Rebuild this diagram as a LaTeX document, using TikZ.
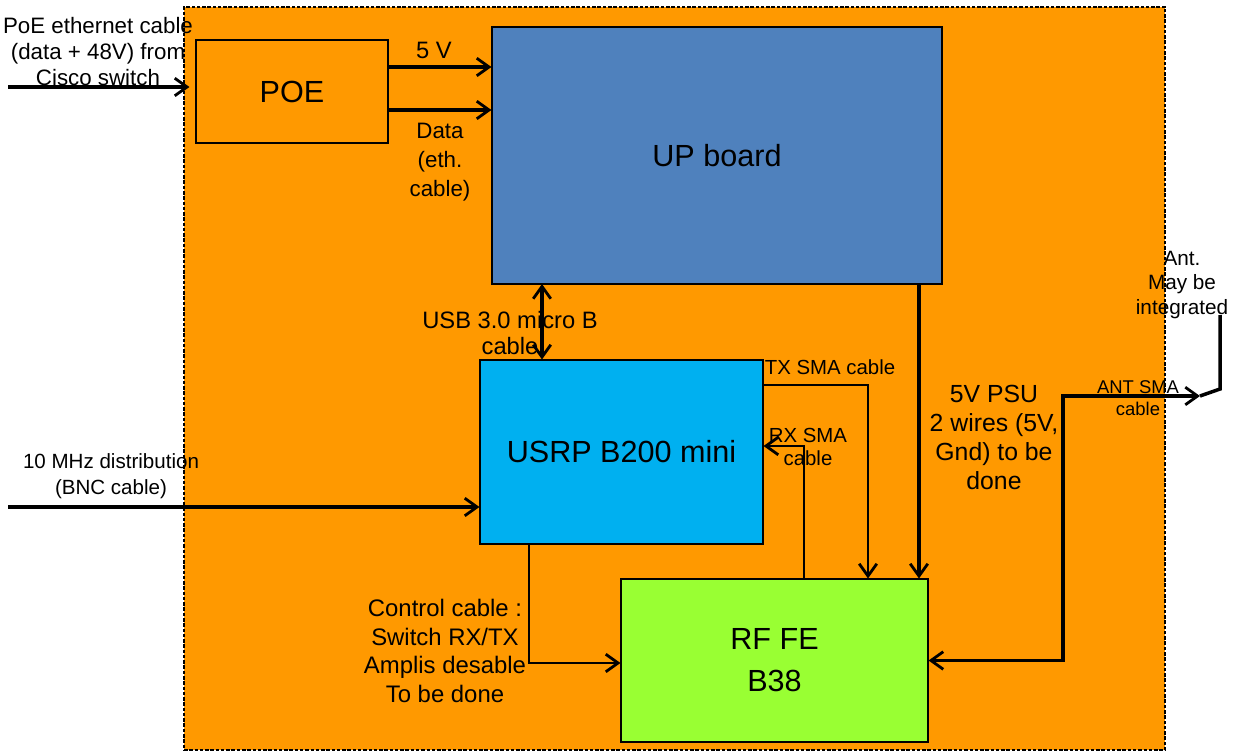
\documentclass[tikz,border=0pt]{standalone}
\usepackage{fontspec}
\setmainfont{Liberation Sans}
\usetikzlibrary{arrows.meta}
\definecolor{frameorange}{HTML}{FF9900}
\definecolor{upblue}{HTML}{4F81BD}
\definecolor{usrpcyan}{HTML}{00B0F0}
\definecolor{rfgreen}{HTML}{99FF33}

\begin{document}
\begin{tikzpicture}[x=0.2mm, y=-0.2mm,
  >={Straight Barb[length=7pt, width=10pt, line width=1.6pt]},
  box/.style={draw, line width=0.6pt, inner sep=0pt, align=center, font=\fontsize{17.4}{24}\selectfont},
  lbl/.style={align=center, inner sep=0pt, font=\fontsize{12.7}{14.8}\selectfont},
  lblm/.style={align=center, inner sep=0pt, font=\fontsize{13.6}{16.2}\selectfont},
  wire/.style={line width=2pt},
  thinwire/.style={line width=0.8pt}]
\useasboundingbox (0,0) rectangle (1235,751);
% outer case
\node[draw, fill=frameorange, dash pattern=on 2pt off 1pt, line width=1pt,
  minimum width=196.2mm, minimum height=148.6mm] (case) at (674.5,378.5) {};
% boxes
\node[box, fill=frameorange, minimum width=38.4mm, minimum height=20.6mm] (poe) at (292,91.5) {POE};
\node[box, fill=upblue, minimum width=90mm, minimum height=51.4mm] (up) at (717,155.5) {UP board};
\node[box, fill=usrpcyan, minimum width=56.6mm, minimum height=36.8mm] (usrp) at (621.5,452) {USRP B200 mini};
\node[box, fill=rfgreen, minimum width=61.4mm, minimum height=32.6mm] (rf) at (774.5,660.5) {RF FE\\B38};
% end points of the cables
\coordinate (poein) at (8,87);
\coordinate (fivev) at (388,67);
\coordinate (data) at (388,110);
\coordinate (usb) at (542,284);
\coordinate (clkin) at (8,507);
\coordinate (txdrop) at (868,385);
\coordinate (rxrise) at (804,446);
\coordinate (psu) at (919,284);
\coordinate (ctrl) at (529,663);
\coordinate (antbend) at (1063,396);
\coordinate (antfeed) at (1200,396);
\coordinate (antkink) at (1220,389);
\coordinate (anttop) at (1220,315);
% cables
\draw[->, wire] (poein) -- ([xshift=-1.2mm]poein -| poe.west);
\draw[->, wire] (fivev) -- (fivev -| up.west);
\draw[->, wire] (data) -- (data -| up.west);
\draw[<->, wire] (usb) -- (usb |- usrp.north);
\draw[->, wire] (clkin) -- (clkin -| usrp.west);
\draw[->, thinwire] (usrp.east |- txdrop) -- (txdrop) -- (txdrop |- rf.north);
\draw[->, thinwire] (rxrise |- rf.north) -- (rxrise) -- (rxrise -| usrp.east);
\draw[->, wire] (psu) -- (psu |- rf.north);
\draw[->, thinwire] (ctrl |- usrp.south) -- (ctrl) -- (ctrl -| rf.west);
\draw[<->, wire] (rf.east) -| (antbend) -- (antfeed);
% antenna
\draw[wire] (antfeed) -- (antkink) -- (anttop);
% labels
\node[lbl] (poelbl) at (98,52) {PoE ethernet cable\\(data + 48V) from\\Cisco switch};
\node[lbl, font=\fontsize{13.5}{16.5}\selectfont] (fivevlbl) at (434,50) {5 V};
\node[lbl, font=\fontsize{12.7}{16.5}\selectfont] (datalbl) at (440,162) {Data\\(eth.\\cable)};
\node[lbl, font=\fontsize{13.5}{15.3}\selectfont] (usblbl) at (510,333) {USB 3.0 micro B\\cable};
\node[lbl, font=\fontsize{11.7}{14.7}\selectfont] (clklbl) at (111,476) {10 MHz distribution\\(BNC cable)};
\node[lbl, font=\fontsize{11.6}{13.6}\selectfont] (txlbl) at (830,367) {TX SMA cable};
\node[lbl, font=\fontsize{11.6}{13.6}\selectfont] (rxlbl) at (808,447) {RX SMA\\cable};
\node[lblm, font=\fontsize{14.1}{16.5}\selectfont] (psulbl) at (994,437) {5V PSU\\2 wires (5V,\\Gnd) to be\\done};
\node[lbl, font=\fontsize{10.5}{12.5}\selectfont] (antlbl) at (1138,398) {ANT SMA\\cable};
\node[lbl, font=\fontsize{11.8}{14}\selectfont] (antnote) at (1182,285) {Ant.\\May be\\integrated};
\node[lblm] (ctrllbl) at (445,651) {Control cable :\\Switch RX/TX\\Amplis desable\\To be done};
\end{tikzpicture}
\end{document}
